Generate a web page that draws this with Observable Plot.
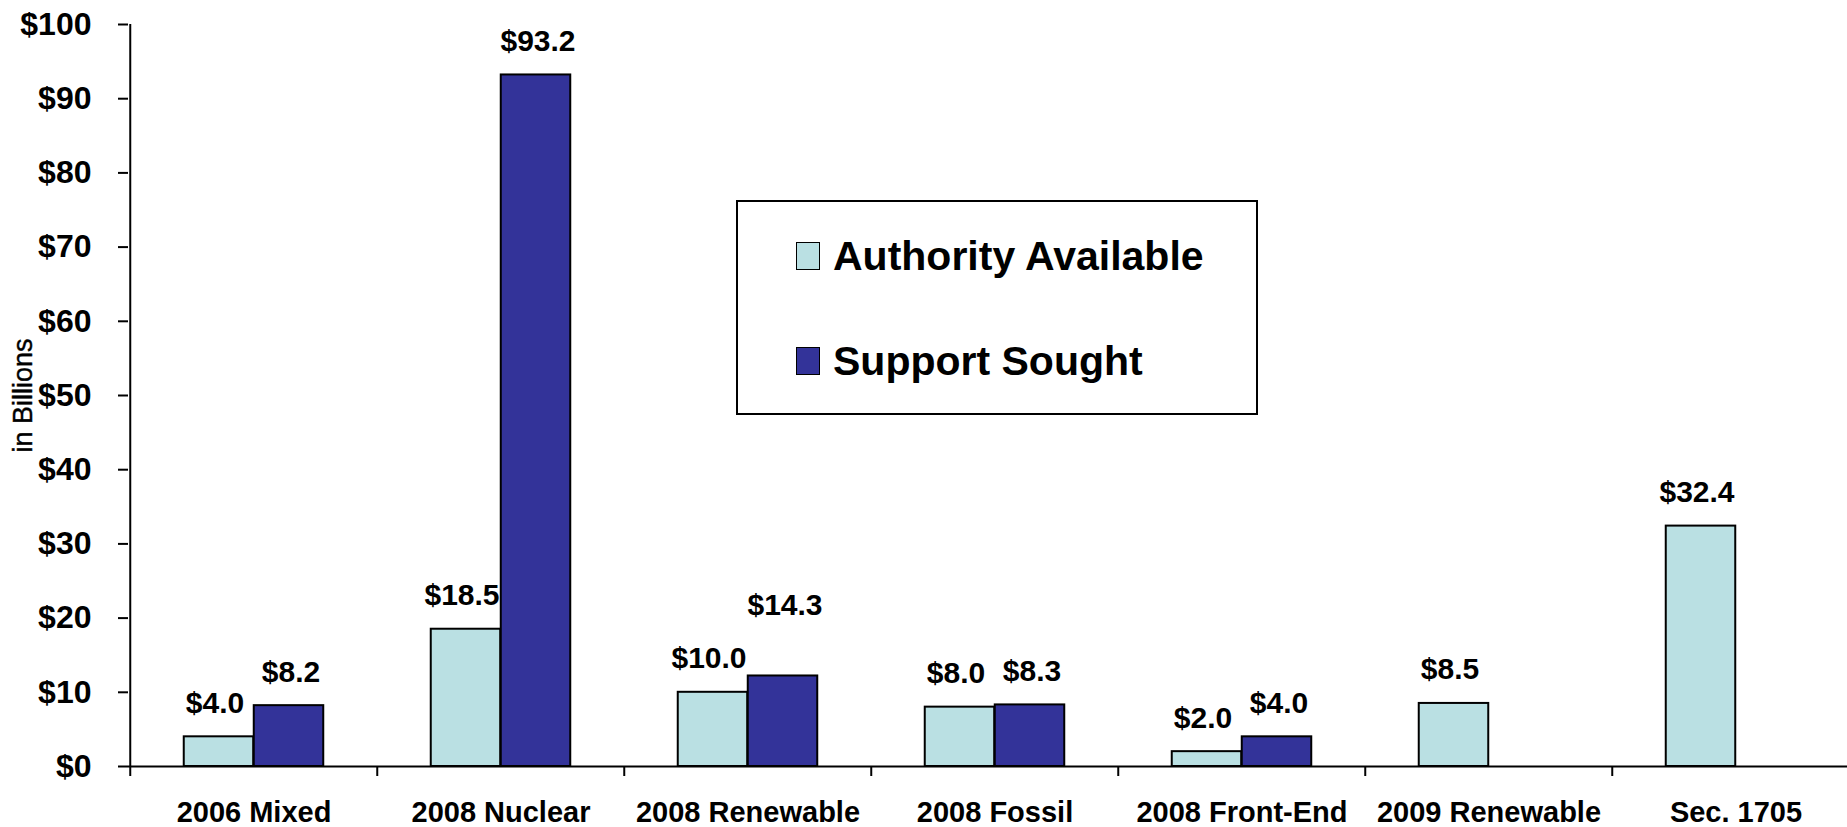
<!DOCTYPE html>
<html>
<head>
<meta charset="utf-8">
<script src="https://cdn.jsdelivr.net/npm/d3@7"></script>
<script src="https://cdn.jsdelivr.net/npm/@observablehq/plot@0.6"></script>
<style>
  html, body { margin: 0; padding: 0; background: #fff; overflow: hidden; }
  #wrap { position: relative; width: 1847px; height: 827px; font-family: "Liberation Sans", Arial, sans-serif; }
  #legend { position: absolute; left: 736px; top: 200px; width: 518px; height: 211px; border: 2px solid #000; background: #fff; }
  .row { position: absolute; left: 58px; display: flex; align-items: center; height: 50px; }
  .sw { width: 22px; height: 26px; border: 1.5px solid #000; margin-right: 13px; }
  .lt { font-size: 41px; font-weight: bold; color: #000; white-space: nowrap; }
</style>
</head>
<body>
<div id="wrap"></div>
<script>
const categories = ["2006 Mixed", "2008 Nuclear", "2008 Renewable", "2008 Fossil", "2008 Front-End", "2009 Renewable", "Sec. 1705"];
const authority = [4.0, 18.5, 10.0, 8.0, 2.0, 8.5, 32.4];
const support = [8.2, 93.2, 12.2, 8.3, 4.0, null, null];
const authorityLabels = ["$4.0", "$18.5", "$10.0", "$8.0", "$2.0", "$8.5", "$32.4"];
const supportLabels = ["$8.2", "$93.2", "$14.3", "$8.3", "$4.0", null, null];
const supportLabelAt = [8.2, 93.2, 17.2, 8.3, 4.0, null, null];
const yTicks = [0, 10, 20, 30, 40, 50, 60, 70, 80, 90, 100];
const seriesNames = ["Authority Available", "Support Sought"];
const seriesColors = ["#BAE0E3", "#333399"];
const yTitle = "in Billions";

const rows = categories.map((c, i) => ({
  cat: c,
  auth: authority[i],
  sup: support[i],
  authLabel: authorityLabels[i],
  supLabel: supportLabels[i],
  supAt: supportLabelAt[i]
}));

const W = 1847, H = 827;
const left = 128;
const bw = 247.5;
const barW = 70;
const font = "Liberation Sans, Arial, sans-serif";

const chart = Plot.plot({
  width: W,
  height: H,
  marginLeft: left,
  marginRight: 0,
  marginTop: 24,
  marginBottom: 61,
  style: { fontFamily: font, background: "white", color: "#000" },
  x: { domain: categories, range: [left, left + bw * categories.length], padding: 0, label: null },
  y: { domain: [0, 100], label: null },
  marks: [
    Plot.barY(rows, { x: "cat", y: "auth", fill: seriesColors[0], stroke: "#000", strokeWidth: 2,
      insetLeft: bw / 2 - barW, insetRight: bw / 2 }),
    Plot.barY(rows.filter(d => d.sup != null), { x: "cat", y: "sup", fill: seriesColors[1], stroke: "#000", strokeWidth: 2,
      insetLeft: bw / 2, insetRight: bw / 2 - barW }),
    Plot.text(rows, { x: "cat", y: "auth", text: "authLabel", dx: -39, dy: -24, lineAnchor: "bottom",
      fontSize: 30, fontWeight: "bold", fill: "#000" }),
    Plot.text(rows.filter(d => d.sup != null), { x: "cat", y: "supAt", text: "supLabel", dx: 37, dy: -24, lineAnchor: "bottom",
      fontSize: 30, fontWeight: "bold", fill: "#000" }),
    Plot.ruleY([0], { stroke: "#000", strokeWidth: 2 }),
    Plot.ruleX([categories[0]], { x: d => d, y1: 0, y2: 100, dx: -bw / 2, stroke: "#000", strokeWidth: 2 }),
    Plot.axisY({ ticks: yTicks, tickFormat: d => "$" + d, tickSize: 10, tickPadding: 27, fontSize: 32, fontWeight: "bold",
      strokeWidth: 2, label: null }),
    Plot.text([yTitle], { text: d => d, frameAnchor: "left", textAnchor: "middle", rotate: -90, dx: -105,
      fontSize: 27, fontWeight: "normal", fill: "#000", stroke: "#000", strokeWidth: 0.4 }),
    Plot.axisX({ tickSize: 10, tickFormat: () => "", dx: -bw / 2, strokeWidth: 2, label: null }),
    Plot.axisX({ tickSize: 0, tickPadding: 35, fontSize: 29, fontWeight: "bold", label: null })
  ]
});

const wrap = document.getElementById("wrap");
wrap.appendChild(chart);

const legend = document.createElement("div");
legend.id = "legend";
const tops = [29, 134];
seriesNames.forEach((name, i) => {
  const r = document.createElement("div");
  r.className = "row";
  r.style.top = tops[i] + "px";
  const sw = document.createElement("div");
  sw.className = "sw";
  sw.style.background = seriesColors[i];
  const lt = document.createElement("span");
  lt.className = "lt";
  lt.textContent = name;
  r.appendChild(sw);
  r.appendChild(lt);
  legend.appendChild(r);
});
wrap.appendChild(legend);
</script>
</body>
</html>
